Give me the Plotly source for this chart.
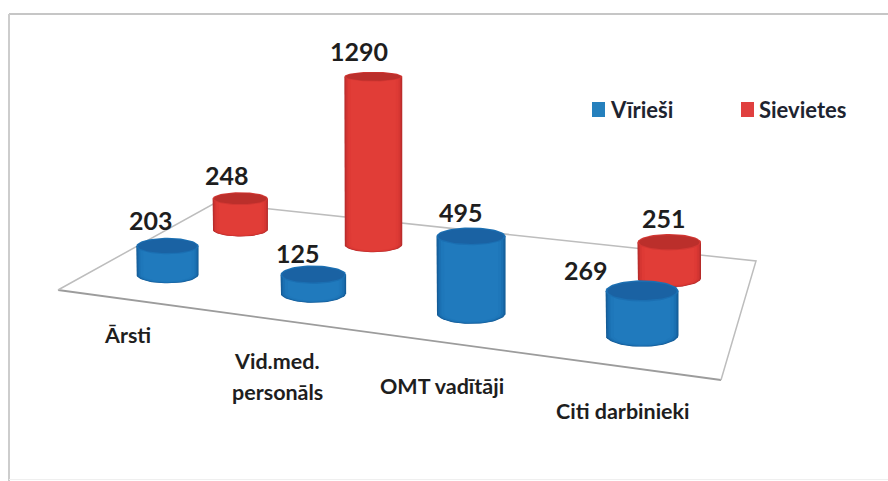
import numpy as np
import plotly.graph_objects as go

categories = ["Ārsti", "Vid.med.<br>personāls", "OMT vadītāji", "Citi darbinieki"]
series_names = ["Vīrieši", "Sievietes"]
viriesi = [203, 125, 495, 269]
sievietes = [248, 1290, None, 251]

# ---- styling / projection settings (not data)
FLOOR = {"fl": (58, 290), "fr": (721, 380), "br": (756, 261), "bl": (215, 203)}
ROW_V = {"Vīrieši": 0.235, "Sievietes": 0.735}
U0, DU = 0.121, 0.252
PALETTE = {
    "Vīrieši": dict(shades=["#155c96", "#1766a6", "#1b70b2", "#1e77ba", "#207abd"], top="#1a62a3", rim="#1b6fb2", swatch="#2580bd"),
    "Sievietes": dict(shades=["#b52b29", "#c63130", "#d53632", "#de3a35", "#e13d37"], top="#bb2f2b", rim="#d23733", swatch="#e0403f"),
}
LABEL_OFF = {
    "Vīrieši": [(-16, -18), (-15, -12), (-10, -15), (-56, -10)],
    "Sievietes": [(-13, -17), (-14, -21), (0, 0), (-5, -16)],
}
CAT_POS = [[(127, 335)], [(277, 361), (277, 392)], [(442, 386)], [(623, 411)]]
K = 0.0045
HORIZON = -170


def homography():
    src = [(0, 0), (1, 0), (1, 1), (0, 1)]
    dst = [FLOOR["fl"], FLOOR["fr"], FLOOR["br"], FLOOR["bl"]]
    A, b = [], []
    for (u, v), (x, y) in zip(src, dst):
        A.append([u, v, 1, 0, 0, 0, -u * x, -v * x]); b.append(x)
        A.append([0, 0, 0, u, v, 1, -u * y, -v * y]); b.append(y)
    h = np.linalg.solve(np.array(A, float), np.array(b, float))
    return np.append(h, 1).reshape(3, 3)


H = homography()


def floor_xy(u, v):
    p = H @ np.array([u, v, 1.0])
    return p[0] / p[2], p[1] / p[2]


def ratio(y):
    return max(0.17, 0.000635 * (y - HORIZON))


def radius(x, v):
    return 1.05 * (1 - 0.135 * (v - 0.235) / 0.5) * (29.7 + 0.0106 * (x - 169))


TH = np.linspace(0, 2 * np.pi, 73)
FRONT = np.linspace(np.pi, 0, 37)  # left to right along the near side


def fill(xs, ys, color, name, group):
    return go.Scatter(x=xs, y=ys, mode="lines", fill="toself", fillcolor=color,
                      line=dict(width=0, color=color), name=name, legendgroup=group,
                      showlegend=False, hoverinfo="skip")


def cylinder(i, value, series):
    v = ROW_V[series]
    x0, y0 = floor_xy(U0 + i * DU, v)
    rx = radius(x0, v)
    yt = y0 - K * rx * value
    ryb, ryt = rx * ratio(y0), rx * ratio(yt)
    pal = PALETTE[series]
    out = []
    for frac, col in zip([1.0, 0.97, 0.93, 0.87, 0.78], pal["shades"]):
        bx = x0 + frac * rx * np.cos(FRONT)
        by = y0 + frac * ryb * np.sin(FRONT)
        xs = np.concatenate([[x0 - frac * rx], bx, [x0 + frac * rx]])
        ys = np.concatenate([[yt], by, [yt]])
        out.append(fill(xs, ys, col, f"{series} {i}", series))
    out.append(fill(x0 + rx * np.cos(TH), yt + ryt * np.sin(TH), pal["rim"], f"{series} {i} top", series))
    out.append(fill(x0 + 0.95 * rx * np.cos(TH), yt + 0.85 * ryt * np.sin(TH), pal["top"], f"{series} {i} top", series))
    return out, x0, yt - ryt


fig = go.Figure()

# floor outline
corners = [FLOOR[k] for k in ("fl", "fr", "br", "bl", "fl")]
fig.add_trace(go.Scatter(x=[c[0] for c in corners[:2]], y=[c[1] for c in corners[:2]], mode="lines",
                         line=dict(color="#9c9c9c", width=1.8), showlegend=False, hoverinfo="skip"))
fig.add_trace(go.Scatter(x=[c[0] for c in corners[1:]], y=[c[1] for c in corners[1:]], mode="lines",
                         line=dict(color="#bdbdbd", width=1.5), showlegend=False, hoverinfo="skip"))

annotations = []
NUM_FONT = dict(size=25, color="#1e1e1e", family="Lato", weight=700)
CAT_FONT = dict(size=21.5, color="#1e1e1e", family="Lato", weight=700)
LEG_FONT = dict(size=22, color="#1e2430", family="Lato", weight=700)

# back row first, then front row, so the near cylinders cover the far ones
for series, values in (("Sievietes", sievietes), ("Vīrieši", viriesi)):
    for i, val in enumerate(values):
        if val is None:
            continue
        traces, cx, top = cylinder(i, val, series)
        fig.add_traces(traces)
        dx, dy = LABEL_OFF[series][i]
        annotations.append(dict(text=str(val), x=cx + dx, y=top + dy, xref="x", yref="y", showarrow=False, font=NUM_FONT))

for label, positions in zip(categories, CAT_POS):
    for line, (x, y) in zip(label.split("<br>"), positions):
        annotations.append(dict(text=line, x=x, y=y, xref="x", yref="y", showarrow=False, font=CAT_FONT))

annotations.append(dict(text=series_names[0], x=608, y=109, xref="x", yref="y", xanchor="left", showarrow=False, font=LEG_FONT))
annotations.append(dict(text=series_names[1], x=757, y=109, xref="x", yref="y", xanchor="left", showarrow=False, font=LEG_FONT))

shapes = [
    dict(type="line", x0=9, x1=888, y0=14, y1=14, xref="x", yref="y", line=dict(color="#c6c6c6", width=2)),
    dict(type="line", x0=9, x1=9, y0=14, y1=481, xref="x", yref="y", line=dict(color="#cdcdcd", width=2)),
    dict(type="line", x0=9, x1=888, y0=479.5, y1=479.5, xref="x", yref="y", line=dict(color="#efefef", width=1)),
    dict(type="rect", x0=592, x1=605, y0=102, y1=117, xref="x", yref="y", fillcolor=PALETTE["Vīrieši"]["swatch"], line_width=0),
    dict(type="rect", x0=741, x1=754, y0=102, y1=117, xref="x", yref="y", fillcolor=PALETTE["Sievietes"]["swatch"], line_width=0),
]

fig.update_layout(
    width=888, height=481, margin=dict(l=0, r=0, t=0, b=0),
    paper_bgcolor="white", plot_bgcolor="white", showlegend=False,
    xaxis=dict(range=[0, 888], visible=False),
    yaxis=dict(range=[481, 0], visible=False),
    shapes=shapes, annotations=annotations,
)
fig.write_html("out.html", config={"displayModeBar": False},
               post_script="document.body.style.margin='0';document.body.style.overflow='hidden';")
